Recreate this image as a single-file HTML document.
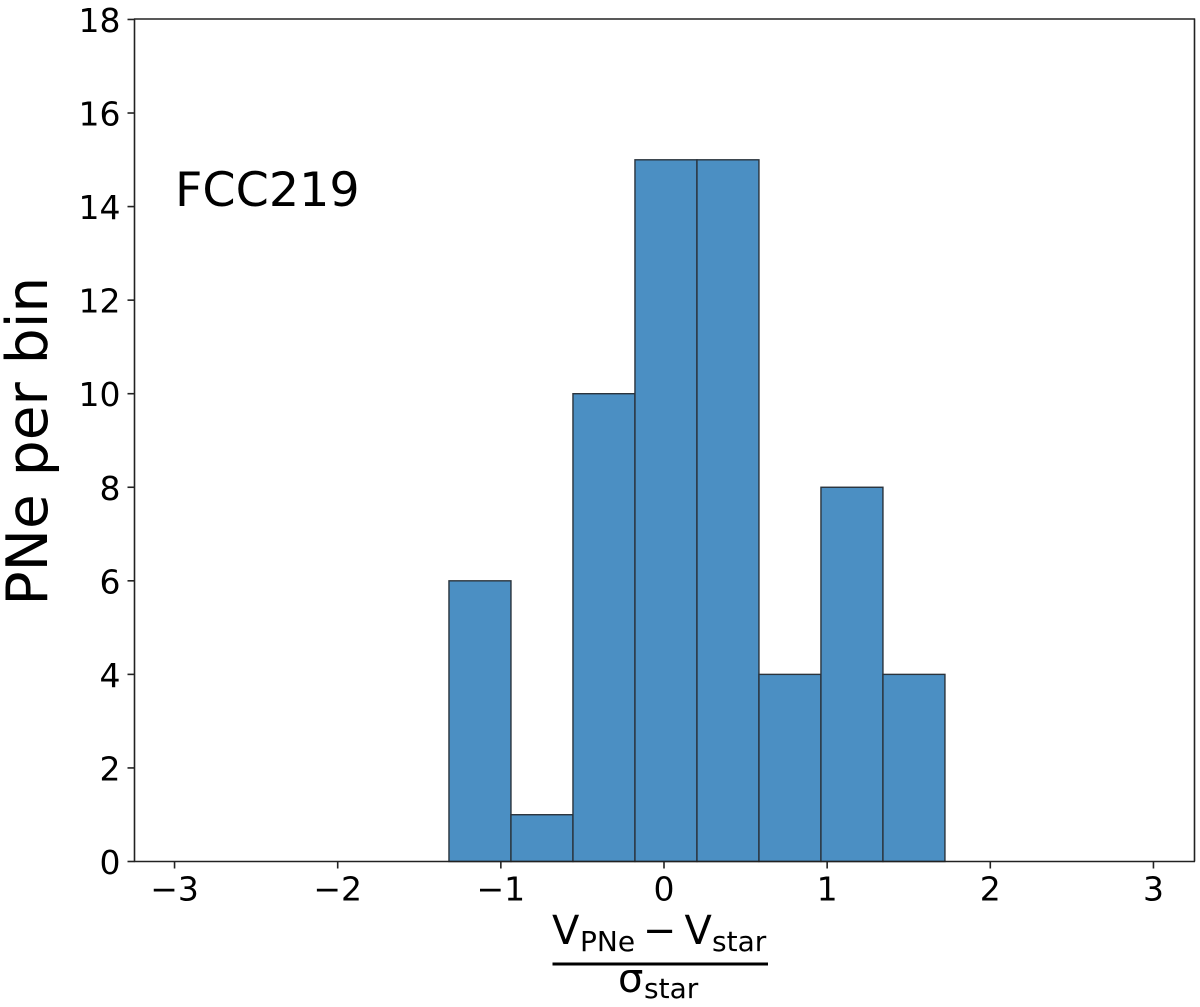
<!DOCTYPE html>
<html lang="en">
<head>
<meta charset="utf-8">
<title>FCC219 PNe velocity histogram</title>
<style>
html,body{margin:0;padding:0;background:#fff;width:1200px;height:1007px;overflow:hidden}
svg{display:block}
text{font-family:"DejaVu Sans","Liberation Sans",sans-serif;fill:#000}
</style>
</head>
<body>
<svg id="chart" width="1200" height="1007" viewBox="0 0 1200 1007" xmlns="http://www.w3.org/2000/svg">
  <rect x="0" y="0" width="1200" height="1007" fill="#ffffff"/>
  <g id="bars"></g>
  <g id="x-ticks"></g>
  <g id="y-ticks"></g>
  <g stroke="#222" fill="none">
    <line x1="134.5" y1="18.5" x2="134.5" y2="861.5" stroke-width="1.6"/>
    <line x1="1194.5" y1="18.5" x2="1194.5" y2="861.5" stroke-width="1.6"/>
    <line x1="134" y1="19" x2="1195" y2="19" stroke-width="1.6"/>
    <line x1="134" y1="861.5" x2="1195" y2="861.5" stroke-width="1.6"/>
  </g>
  <text x="175" y="206" font-size="47.6">FCC219</text>
  <text transform="translate(47,605.5) rotate(-90)" font-size="56.6">PNe per bin</text>
  <g>
    <text x="552" y="944" font-size="40">V</text>
    <text x="580" y="951" font-size="28">PNe</text>
    <text x="659.5" y="944" font-size="40" text-anchor="middle">−</text>
    <text x="684.5" y="944" font-size="40">V</text>
    <text x="712" y="951" font-size="28">star</text>
    <rect x="552.5" y="962.5" width="215.5" height="3" fill="#000"/>
    <text x="618" y="992" font-size="40">σ</text>
    <text x="644" y="998" font-size="28">star</text>
  </g>
</svg>
<script>
const binEdges = [-1.318, -0.938, -0.558, -0.178, 0.202, 0.582, 0.962, 1.342, 1.722];
const binCounts = [6, 1, 10, 15, 15, 4, 8, 4];
const xTickValues = [-3, -2, -1, 0, 1, 2, 3];
const yTickValues = [0, 2, 4, 6, 8, 10, 12, 14, 16, 18];

const NS = 'http://www.w3.org/2000/svg';
function xScale(v) { return 664 + v * 163.15; }
function yScale(v) { return 861.5 - v * 46.78; }

const barsGroup = document.getElementById('bars');
binCounts.forEach(function (count, i) {
  const left = xScale(binEdges[i]);
  const right = xScale(binEdges[i + 1]);
  const top = yScale(count);
  const bar = document.createElementNS(NS, 'rect');
  bar.setAttribute('x', left);
  bar.setAttribute('y', top);
  bar.setAttribute('width', right - left);
  bar.setAttribute('height', yScale(0) - top);
  bar.setAttribute('fill', '#4b8fc3');
  bar.setAttribute('stroke', '#2a333c');
  bar.setAttribute('stroke-width', '1.4');
  
  
  barsGroup.appendChild(bar);
});

const xTicksGroup = document.getElementById('x-ticks');
xTickValues.forEach(function (value) {
  const px = xScale(value);
  const tick = document.createElementNS(NS, 'line');
  tick.setAttribute('x1', px);
  tick.setAttribute('x2', px);
  tick.setAttribute('y1', 861.5);
  tick.setAttribute('y2', 868.5);
  tick.setAttribute('stroke', '#222');
  tick.setAttribute('stroke-width', '1.6');
  
  
  xTicksGroup.appendChild(tick);
  const label = document.createElementNS(NS, 'text');
  label.setAttribute('x', px);
  label.setAttribute('y', 900.5);
  label.setAttribute('font-size', '33');
  label.setAttribute('text-anchor', 'middle');
  
  
  label.textContent = String(value).replace('-', '\u2212');
  xTicksGroup.appendChild(label);
});

const yTicksGroup = document.getElementById('y-ticks');
yTickValues.forEach(function (value) {
  const py = yScale(value);
  const tick = document.createElementNS(NS, 'line');
  tick.setAttribute('x1', 127.5);
  tick.setAttribute('x2', 134.5);
  tick.setAttribute('y1', py);
  tick.setAttribute('y2', py);
  tick.setAttribute('stroke', '#222');
  tick.setAttribute('stroke-width', '1.6');
  
  
  yTicksGroup.appendChild(tick);
  const label = document.createElementNS(NS, 'text');
  label.setAttribute('x', 120.5);
  label.setAttribute('y', py + 12.5);
  label.setAttribute('font-size', '33');
  label.setAttribute('text-anchor', 'end');
  
  
  label.textContent = String(value);
  yTicksGroup.appendChild(label);
});
</script>
</body>
</html>
